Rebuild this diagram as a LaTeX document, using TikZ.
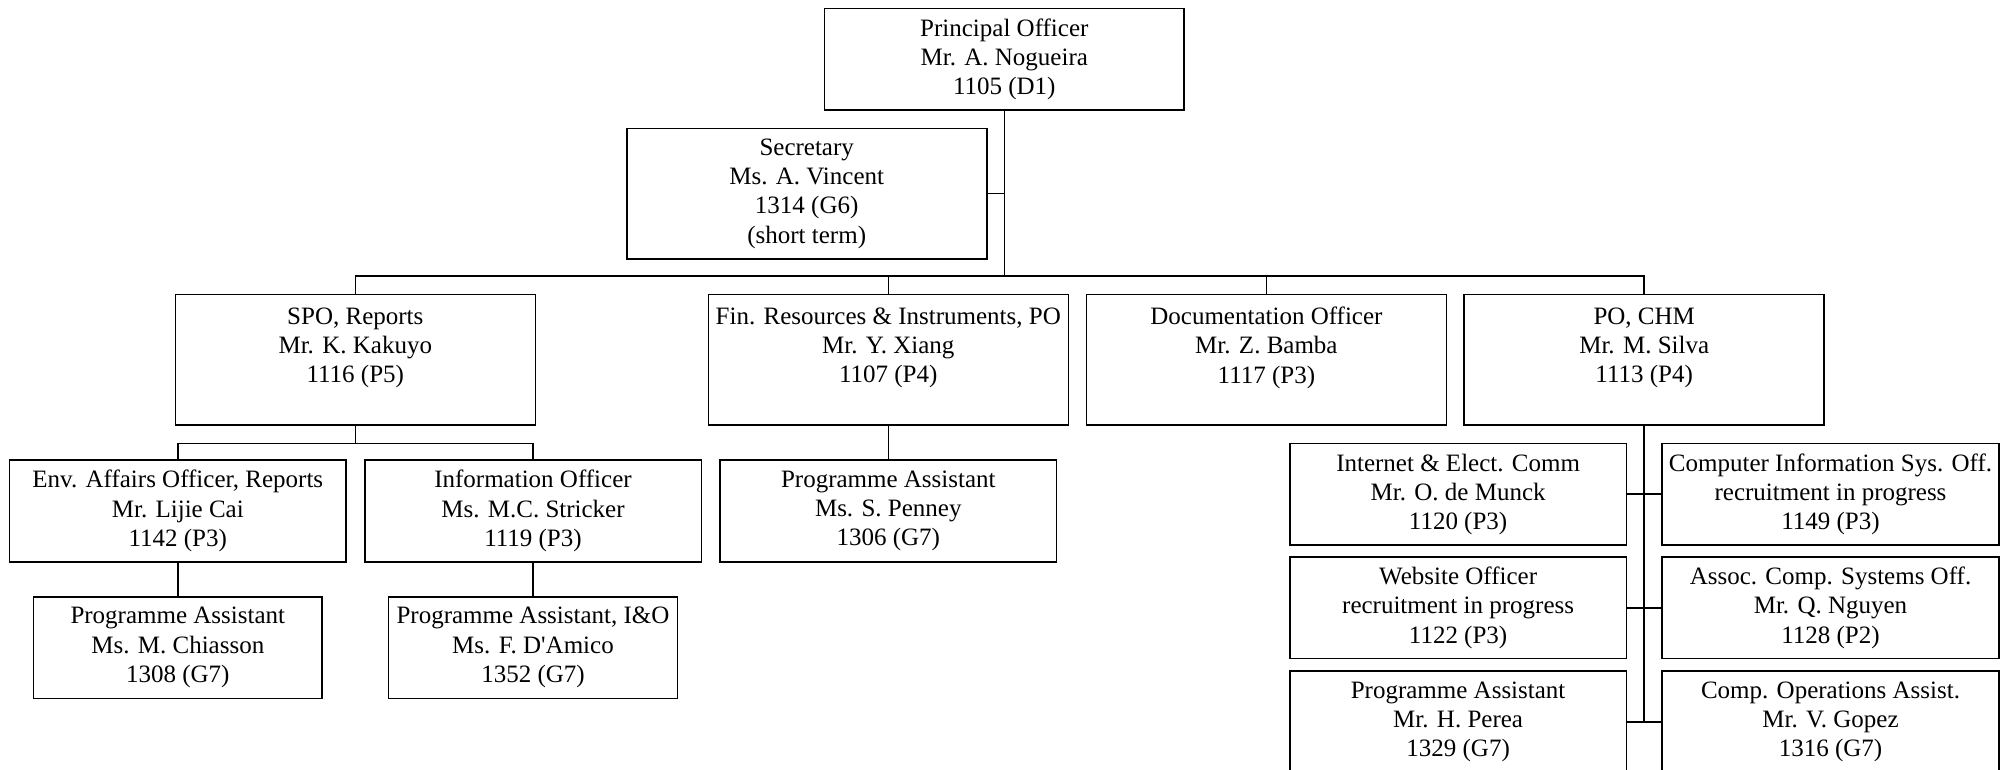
\documentclass[tikz,border=0pt]{standalone}
\usepackage{fontspec}
\setmainfont{Liberation Serif}
\begin{document}
\begin{tikzpicture}[
  x=0.5pt, y=-0.5pt,
  line width=0.8pt,
  office/.style={draw,align=center,inner sep=0pt,font=\fontsize{12.5}{14.6}\selectfont},
  head/.style={office,minimum width=179.7pt,minimum height=50.85pt},
  lead/.style={office,minimum width=180pt,minimum height=65.35pt},
  staff/.style={office,minimum width=168.3pt,minimum height=50.8pt},
  assist/.style={office,minimum width=144.4pt,minimum height=50.8pt}
]
\useasboundingbox (0,0) rectangle (2007,770);
\clip (0,0) rectangle (2007,770);
%% ─── Top: principal officer and secretary ───────────────────────────────────
\node[head] (po) at (1004.3,59.2) {Principal Officer\\Mr. A. Nogueira\\1105 (D1)};
\node[lead] (sec) at (806.7,193.7) {Secretary\\Ms. A. Vincent\\1314 (G6)\\(short term)};
%% ─── Second level ────────────────────────────────────────────────────────────
\node[lead] (spo) at (355.3,359.7) {SPO, Reports\\Mr. K. Kakuyo\\1116 (P5)\\\mbox{}};
\node[lead] (fin) at (888.3,359.7) {Fin. Resources \& Instruments, PO\\Mr. Y. Xiang\\1107 (P4)\\\mbox{}};
\node[lead] (doc) at (1266.4,359.7) {Documentation Officer\\Mr. Z. Bamba\\1117 (P3)\\\mbox{}};
\node[lead] (chm) at (1644.2,359.7) {PO, CHM\\Mr. M. Silva\\1113 (P4)\\\mbox{}};
%% ─── Reports and finance staff ───────────────────────────────────────────────
\node[staff] (env) at (177.8,511) {Env. Affairs Officer, Reports\\Mr. Lijie Cai\\1142 (P3)};
\node[staff] (info) at (533,511) {Information Officer\\Ms. M.C. Stricker\\1119 (P3)};
\node[staff] (pen) at (888.3,511) {Programme Assistant\\Ms. S. Penney\\1306 (G7)};
\node[assist] (chi) at (177.8,647.5) {Programme Assistant\\Ms. M. Chiasson\\1308 (G7)};
\node[assist] (ino) at (533,647.5) {Programme Assistant, I\&O\\Ms. F. D\textquotesingle Amico\\1352 (G7)};
%% ─── CHM staff ───────────────────────────────────────────────────────────────
\node[staff] (cl1) at (1458.1,494.2) {Internet \& Elect. Comm\\Mr. O. de Munck\\1120 (P3)};
\node[staff] (cl2) at (1458.1,607.7) {Website Officer\\recruitment in progress\\1122 (P3)};
\node[staff] (cl3) at (1458.1,722) {Programme Assistant\\Mr. H. Perea\\1329 (G7)};
\node[staff] (cr1) at (1830.5,494.2) {Computer Information Sys. Off.\\recruitment in progress\\1149 (P3)};
\node[staff] (cr2) at (1830.5,607.7) {Assoc. Comp. Systems Off.\\Mr. Q. Nguyen\\1128 (P2)};
\node[staff] (cr3) at (1830.5,722) {Comp. Operations Assist.\\Mr. V. Gopez\\1316 (G7)};
%% ─── Connectors ──────────────────────────────────────────────────────────────
\coordinate (bus) at (1004.3,276.3);
\draw (po.south) -- (bus);
\draw (sec.east) -- (sec.east -| po.south);
\draw (spo.north) |- (bus) -| (chm.north);
\foreach \n in {fin,doc} \draw (\n.north) -- (\n.north |- bus);
\draw (spo.south) -- ++(0,17.7) coordinate (spobus);
\draw (env.north) |- (spobus) -| (info.north);
\draw (env.south) -- (chi.north);
\draw (info.south) -- (ino.north);
\draw (fin.south) -- (pen.north);
\draw (chm.south) -- (chm.south |- cl3.east);
\foreach \r in {1,2,3} \draw (cl\r.east) -- (cr\r.west);
\end{tikzpicture}
\end{document}
